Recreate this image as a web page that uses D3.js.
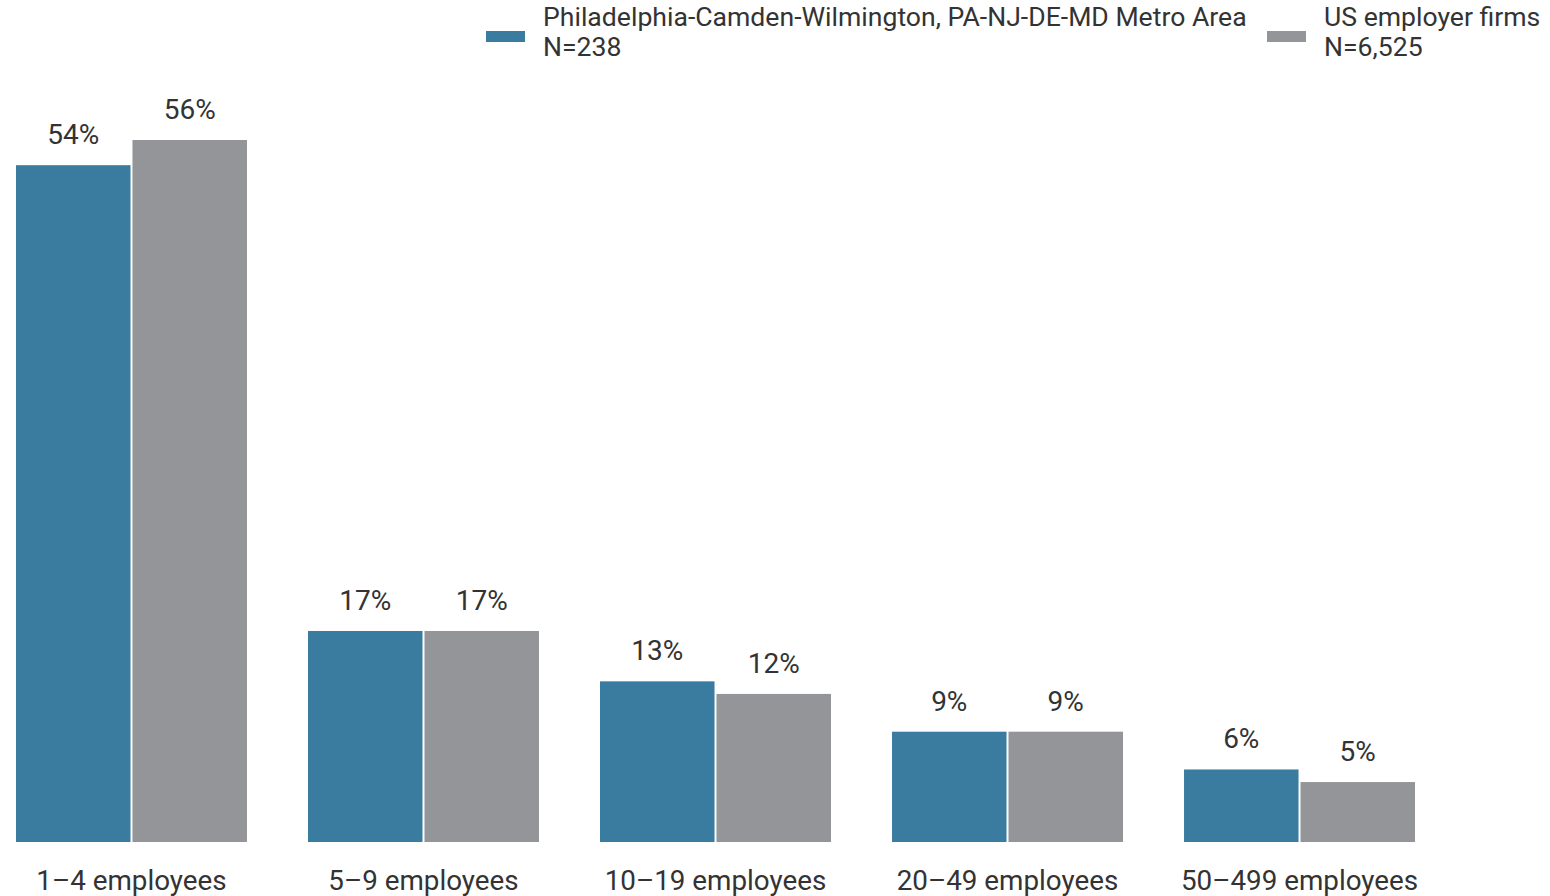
<!DOCTYPE html>
<html><head><meta charset="utf-8">
<script src="https://cdn.jsdelivr.net/npm/d3@7"></script>
<style>body{margin:0;background:#fff;}svg{display:block;font-family:Roboto,"Open Sans",sans-serif;}</style>
</head><body>
<svg id="c" width="1550" height="896"></svg>
<script>
const categories = ["1–4 employees","5–9 employees","10–19 employees","20–49 employees","50–499 employees"];
const seriesNames = ["Philadelphia-Camden-Wilmington, PA-NJ-DE-MD Metro Area","US employer firms"];
const seriesN = ["N=238","N=6,525"];
const philly = [54,17,13,9,6];
const us = [56,17,12,9,5];
const colors = ["#3a7ca0","#939598"];

const svg = d3.select("#c");
const baseY = 842;
const x0 = d3.scaleBand().domain(categories).range([16,1415]).paddingInner(0.209).paddingOuter(0);
const x1 = d3.scaleBand().domain([0,1]).range([0,x0.bandwidth()]).paddingInner(0.017);
const y = d3.scaleLinear().domain([0,56]).range([845,140]);

const data = categories.map((c,i)=>({c, vals:[philly[i],us[i]]}));
const g = svg.append("g");
const grp = g.selectAll("g.grp").data(data).join("g").attr("transform",d=>`translate(${x0(d.c)},0)`);
grp.selectAll("rect").data(d=>d.vals.map((v,k)=>({v,k}))).join("rect")
  .attr("x",d=>x1(d.k)).attr("width",x1.bandwidth())
  .attr("y",d=>y(d.v)).attr("height",d=>baseY-y(d.v))
  .attr("fill",d=>colors[d.k]);
grp.selectAll("text.val").data(d=>d.vals.map((v,k)=>({v,k}))).join("text")
  .attr("class","val")
  .attr("x",d=>x1(d.k)+x1.bandwidth()/2).attr("y",d=>y(d.v)-21)
  .attr("text-anchor","middle").attr("font-size",28).attr("fill","#333")
  .text(d=>d.v+"%");
g.selectAll("text.cat").data(categories).join("text").attr("class","cat")
  .attr("x",d=>x0(d)+x0.bandwidth()/2).attr("y",890)
  .attr("text-anchor","middle").attr("font-size",27.8).attr("fill","#333")
  .text(d=>d);

// legend
const legX = [486,1267];
seriesNames.forEach((s,i)=>{
  const lg = svg.append("g").attr("transform",`translate(${legX[i]},0)`);
  lg.append("rect").attr("x",0).attr("y",31).attr("width",39).attr("height",11).attr("fill",colors[i]);
  lg.append("text").attr("x",57).attr("y",25.5).attr("font-size",26.6).attr("fill","#333").text(s);
  lg.append("text").attr("x",57).attr("y",56).attr("font-size",26.6).attr("fill","#333").text(seriesN[i]);
});
</script>
</body></html>
